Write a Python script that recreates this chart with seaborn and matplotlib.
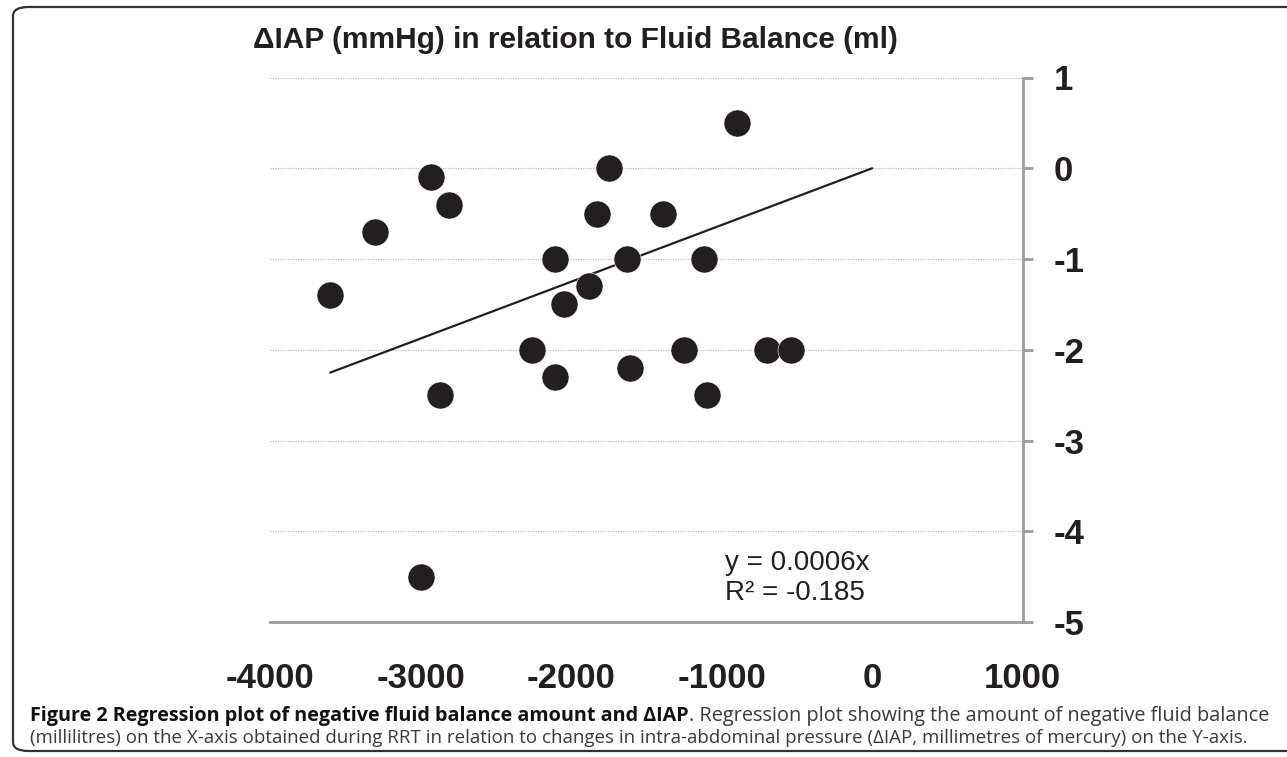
import numpy as np
import pandas as pd
import matplotlib
matplotlib.use("Agg")
import matplotlib.pyplot as plt
import seaborn as sns
from matplotlib.patches import FancyBboxPatch

# fluid balance (ml) vs change in IAP (mmHg)
fluid_balance = [-3600, -3300, -2930, -2810, -2870, -3000, -2260, -2110, -2110, -2050, -1880,
                 -1830, -1750, -1630, -1610, -1390, -1250, -1120, -1100, -900, -700, -540]
delta_iap = [-1.4, -0.7, -0.1, -0.4, -2.5, -4.5, -2.0, -2.3, -1.0, -1.5, -1.3,
             -0.5, 0.0, -1.0, -2.2, -0.5, -2.0, -1.0, -2.5, 0.5, -2.0, -2.0]
x_ticks = [-4000, -3000, -2000, -1000, 0, 1000]
y_ticks = [1, 0, -1, -2, -3, -4, -5]

DARK = "#231f20"
AXIS_GREY = "#9d9d9f"
W, H = 1287, 757

df = pd.DataFrame({"fluid": fluid_balance, "diap": delta_iap})

# excel style trendline forced through the origin
slope = (df.fluid * df.diap).sum() / (df.fluid ** 2).sum()
trend = pd.DataFrame({"fluid": [df.fluid.min(), 0]})
trend["diap"] = slope * trend.fluid

sns.set_style("white")
plt.rcParams["font.family"] = ["Liberation Sans", "DejaVu Sans"]
plt.rcParams["axes.unicode_minus"] = False

fig = plt.figure(figsize=(W / 100, H / 100), dpi=100)
ax = fig.add_axes([270 / W, (H - 622) / H, 752.7 / W, 544.5 / H])

for yv in y_ticks[:-1]:
    ax.axhline(yv, color="#bdbdbd", lw=0.9, ls=(0, (1, 1)), zorder=0)

sns.lineplot(data=trend, x="fluid", y="diap", color=DARK, lw=1.6, ax=ax, zorder=2)
sns.scatterplot(data=df, x="fluid", y="diap", s=380, color=DARK, edgecolor="white",
                linewidth=0.4, ax=ax, zorder=3, clip_on=False)

ax.set_xlim(-4000, 1000)
ax.set_ylim(-5, 1)
ax.set_xticks(x_ticks)
ax.set_yticks(y_ticks)
ax.set_xlabel("")
ax.set_ylabel("")
ax.yaxis.tick_right()

for side in ["left", "top"]:
    ax.spines[side].set_visible(False)
for side in ["right", "bottom"]:
    ax.spines[side].set_color(AXIS_GREY)
    ax.spines[side].set_linewidth(2)

ax.tick_params(axis="both", colors=AXIS_GREY, width=2, length=7.5, labelcolor=DARK,
               labelsize=25)
ax.tick_params(axis="x", pad=21)
ax.tick_params(axis="y", pad=15)
for lab in ax.get_xticklabels() + ax.get_yticklabels():
    lab.set_fontweight("bold")

ax.text(-980, -4.35, "y = 0.0006x", fontsize=20, color=DARK, va="center", ha="left")
ax.text(-980, -4.68, "R² = -0.185", fontsize=20, color=DARK, va="center", ha="left")

fig.text(575 / W, 1 - 40 / H, "ΔIAP (mmHg) in relation to Fluid Balance (ml)",
         fontsize=21.5, fontweight="bold", color=DARK, ha="center", va="center")

# caption under the plot: bold lead-in, then regular text
cap_font = ["Open Sans", "DejaVu Sans"]
x0, y1, y2 = 30 / W, 1 - 716 / H, 1 - 738 / H
t_bold = fig.text(x0, y1, "Figure 2 Regression plot of negative fluid balance amount and ΔIAP",
                  fontsize=14.2, fontweight="bold", family=cap_font, color="#111111",
                  va="center")
fig.canvas.draw()
bb = t_bold.get_window_extent()
fig.text(bb.x1 / fig.bbox.width, y1,
         ". Regression plot showing the amount of negative fluid balance",
         fontsize=14.3, family=cap_font, color="#3a3a3a", va="center")
fig.text(x0, y2, "(millilitres) on the X-axis obtained during RRT in relation to changes in "
         "intra-abdominal pressure (ΔIAP, millimetres of mercury) on the Y-axis.",
         fontsize=13.5, family=cap_font, color="#3a3a3a", va="center")

border = FancyBboxPatch((13 / W, 6 / H), 1.05, 1 - 13 / H, transform=fig.transFigure,
                        boxstyle="round,pad=0,rounding_size=0.012", fill=False,
                        ec="#333333", lw=1.6, clip_on=False)
fig.patches.append(border)

fig.savefig("out.png", dpi=100)
